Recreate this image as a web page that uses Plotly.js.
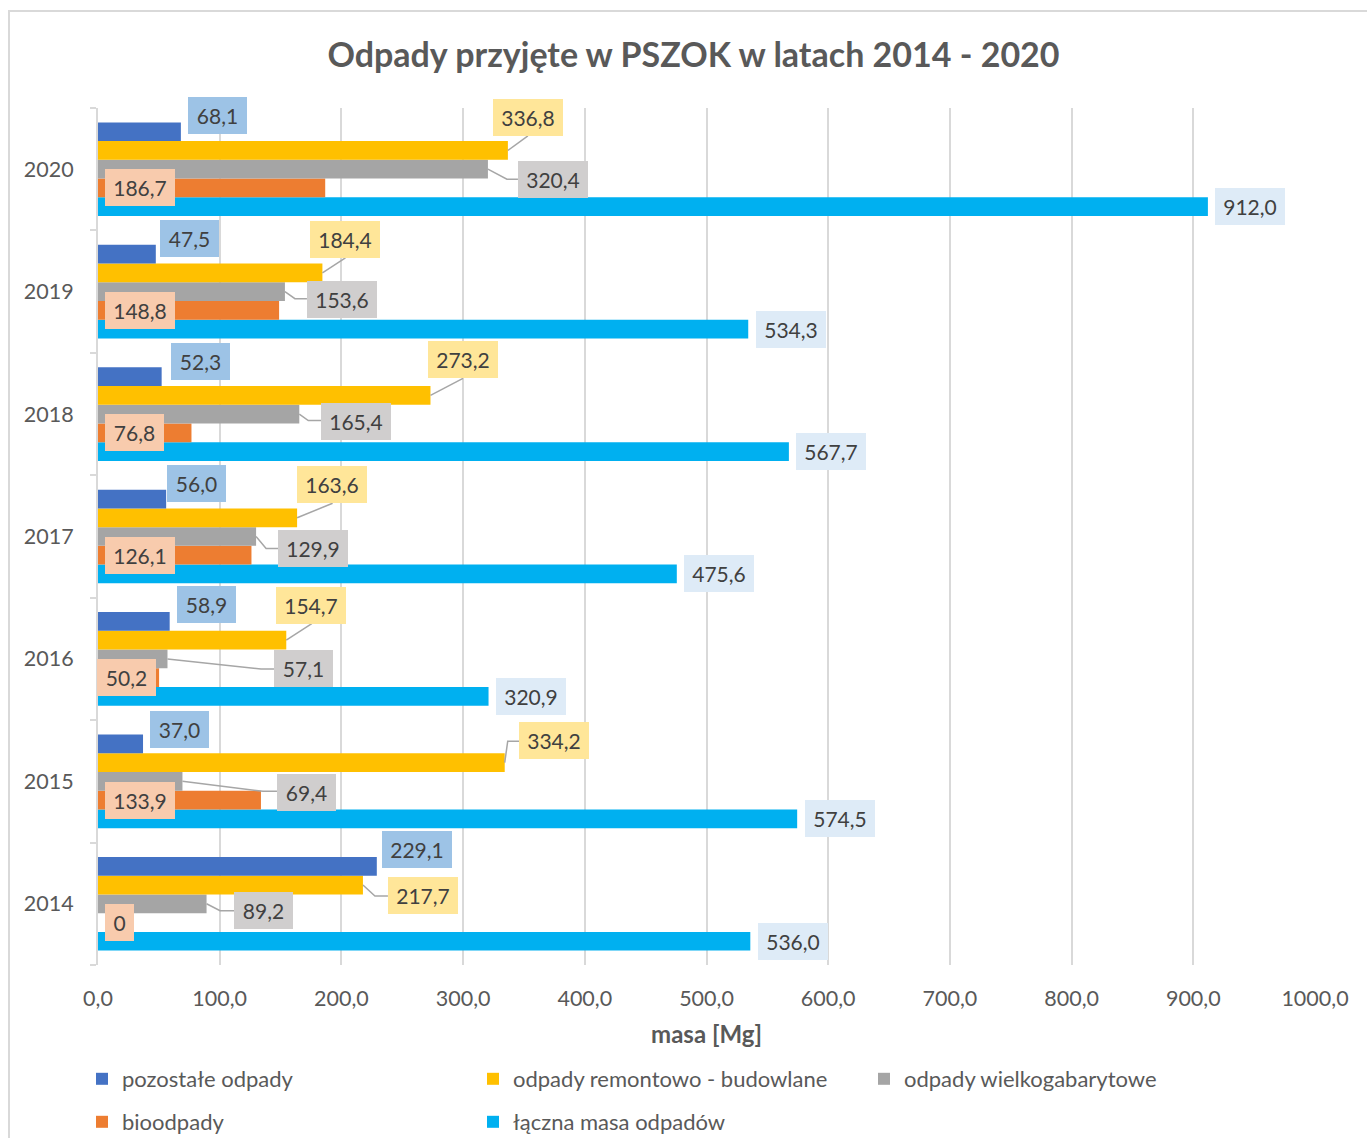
<!DOCTYPE html>
<html><head><meta charset="utf-8">
<script src="https://cdn.plot.ly/plotly-3.0.1.min.js"></script>
<style>
html,body{margin:0;padding:0;background:#fff;overflow:hidden;}
#chart{position:absolute;left:0;top:0;width:1367px;height:1138px;}
#frame{position:absolute;left:8px;top:10px;width:1400px;height:1200px;border:2px solid #d9d9d9;box-sizing:border-box;pointer-events:none;}
</style></head><body>
<div id="chart"></div><div id="frame"></div>
<script>
// ---------- DATA ----------
const years = ['2014', '2015', '2016', '2017', '2018', '2019', '2020'];
const pozostale = [229.1, 37.0, 58.9, 56.0, 52.3, 47.5, 68.1];
const remontowe = [217.7, 334.2, 154.7, 163.6, 273.2, 184.4, 336.8];
const wielkogabarytowe = [89.2, 69.4, 57.1, 129.9, 165.4, 153.6, 320.4];
const bioodpady = [0, 133.9, 50.2, 126.1, 76.8, 148.8, 186.7];
const laczna = [536.0, 574.5, 320.9, 475.6, 567.7, 534.3, 912.0];
const seriesNames = ['pozostałe odpady', 'odpady remontowo - budowlane', 'odpady wielkogabarytowe', 'bioodpady', 'łączna masa odpadów'];
const chartTitle = 'Odpady przyjęte w PSZOK w latach 2014 - 2020';
const xTitle = 'masa [Mg]';

// ---------- STYLE ----------
const barColors = ['#4472C4', '#FFC000', '#A5A5A5', '#ED7D31', '#00B0F0'];
const labelBg = ['#9DC3E6', '#FFE699', '#D0CECE', '#F8CBAD', '#DEEBF7'];
const FONT = 'Lato, "Open Sans", sans-serif';
const BARGAP = 0.235;

// label placement (pixel offsets, years 2014..2020): box left edge rel. to anchor, box center y (down +)
const labelPlacement = [
  { anchor: 'end', lx: [5, 7, 7, 1, 9, 4, 7], ly: [-16.5, -14, -16.5, -16, -15, -15.5, -16], leaders: null },
  { anchor: 'end', lx: [25, 14.3, -10, 0, -2.5, -12.4, -15], ly: [10.5, -22, -35, -33, -35.7, -33.5, -33],
    leaders: [[[0,0],[12,11],[25,11]], [[0,0],[3,-21.5],[14.3,-21.5]], [[0,0],[25.5,-16.5]], [[0,0],[35.5,-14.5]],
              [[0,0],[32.5,-17]], [[0,0],[23,-15]], [[0,0],[20,-14.5]]] },
  { anchor: 'end', lx: [27.5, 94.5, 106.5, 22, 22, 22, 30], ly: [7, 11, 10, 12, 7.5, 8, 10.5],
    leaders: [[[0,0],[13.5,7],[27.5,7]], [[0,0],[80.5,10],[94.5,10]], [[0,0],[93.5,10],[106.5,10]], [[0,0],[10,12],[22,12]],
              [[0,0],[9,6.5],[22,6.5]], [[0,0],[10,7],[22,7]], [[0,0],[19,10],[30,10]]] },
  { anchor: 'base', lx: [7, 7, -1, 7, 7, 7, 7], ly: [0, 0, 0, 0, 0, 0, 0], leaders: null },
  { anchor: 'end', lx: [7.5, 7.5, 7.5, 7.5, 7.5, 7.5, 7.5], ly: [0, 0, 0, 0, 0, 0, 0], leaders: null }
];

const seriesValues = [pozostale, remontowe, wielkogabarytowe, bioodpady, laczna];
const fmt = v => v === 0 ? '0' : v.toFixed(1).replace('.', ',');
const boxW = t => t.length >= 5 ? 70 : (t.length === 4 ? 59 : 29);

// bars: top-to-bottom order inside a group is series 0..4; plotly puts first trace at bottom
const nS = seriesValues.length;
const bw = (1 - BARGAP) / nS;
const barOffset = s => (1 - BARGAP) / 2 - bw * (s + 0.5);

const traces = [];
for (let s = nS - 1; s >= 0; s--) {
  traces.push({
    type: 'bar', orientation: 'h', name: seriesNames[s],
    x: seriesValues[s], y: years,
    marker: { color: barColors[s] },
    legend: s < 3 ? 'legend' : 'legend2',
    hoverinfo: 'none'
  });
}

const annotations = [];
const shapes = [];
seriesValues.forEach((vals, s) => {
  const pl = labelPlacement[s];
  vals.forEach((v, i) => {
    const t = fmt(v);
    const yPos = i + barOffset(s);
    const xPos = pl.anchor === 'base' ? 0 : v;
    annotations.push({
      xref: 'x', yref: 'y', x: xPos, y: yPos,
      xanchor: 'left', yanchor: 'middle',
      xshift: pl.lx[i], yshift: -pl.ly[i],
      text: t, showarrow: false,
      width: boxW(t), height: 37, borderpad: 0, borderwidth: 0,
      bgcolor: labelBg[s], align: 'center', valign: 'middle',
      font: { family: FONT, size: 21, color: '#404040' }
    });
    if (pl.leaders && pl.leaders[i]) {
      const pts = pl.leaders[i];
      const path = pts.map((p, k) => (k === 0 ? 'M' : 'L') + p[0] + ',' + (-p[1])).join(' ');
      shapes.push({
        type: 'path', xref: 'x', yref: 'y', xsizemode: 'pixel', ysizemode: 'pixel',
        xanchor: v, yanchor: yPos, path: path,
        line: { color: '#a6a6a6', width: 1.5 }, layer: 'above'
      });
    }
  });
});

const legendBase = {
  orientation: 'h', xref: 'container', yref: 'container', xanchor: 'left', yanchor: 'middle',
  x: 82 / 1367, entrywidth: 346, entrywidthmode: 'pixels', traceorder: 'reversed',
  font: { family: FONT, size: 22, color: '#595959' }, bgcolor: 'rgba(0,0,0,0)', borderwidth: 0
};

const layout = {
  width: 1367, height: 1138,
  margin: { l: 98, r: 52, t: 108, b: 173, autoexpand: false },
  paper_bgcolor: 'rgba(0,0,0,0)', plot_bgcolor: 'rgba(0,0,0,0)',
  font: { family: FONT, color: '#595959', size: 21 },
  separators: ', ',
  title: {
    text: chartTitle, xref: 'container', yref: 'container',
    x: 693.5 / 1367, xanchor: 'center', y: 1 - 55 / 1138, yanchor: 'middle',
    font: { family: FONT, size: 34, color: '#595959', weight: 700 }
  },
  barmode: 'group', bargap: BARGAP, bargroupgap: 0,
  xaxis: {
    range: [0, 1000], tick0: 0, dtick: 100, tickformat: '.1f',
    showgrid: true, gridcolor: '#d9d9d9', gridwidth: 2,
    zeroline: false, showline: false, ticks: '', ticklabelstandoff: 18,
    tickfont: { family: FONT, size: 21.5, color: '#595959' },
    title: { text: xTitle, standoff: 16, font: { family: FONT, size: 24, color: '#595959', weight: 700 } },
    fixedrange: true
  },
  yaxis: {
    type: 'category', categoryorder: 'array', categoryarray: years, range: [-0.5, 6.5],
    tickson: 'boundaries', ticks: 'outside', ticklen: 6, tickwidth: 2, tickcolor: '#d9d9d9',
    showline: true, linecolor: '#d9d9d9', linewidth: 2, showgrid: false, zeroline: false,
    ticklabelstandoff: 18,
    tickfont: { family: FONT, size: 21.5, color: '#595959' }, fixedrange: true
  },
  showlegend: true,
  legend: Object.assign({}, legendBase, { y: 1 - 1079 / 1138 }),
  legend2: Object.assign({}, legendBase, { y: 1 - 1122 / 1138 }),
  annotations: annotations,
  shapes: shapes
};

Plotly.newPlot('chart', traces, layout, { staticPlot: true });
</script>
</body></html>
